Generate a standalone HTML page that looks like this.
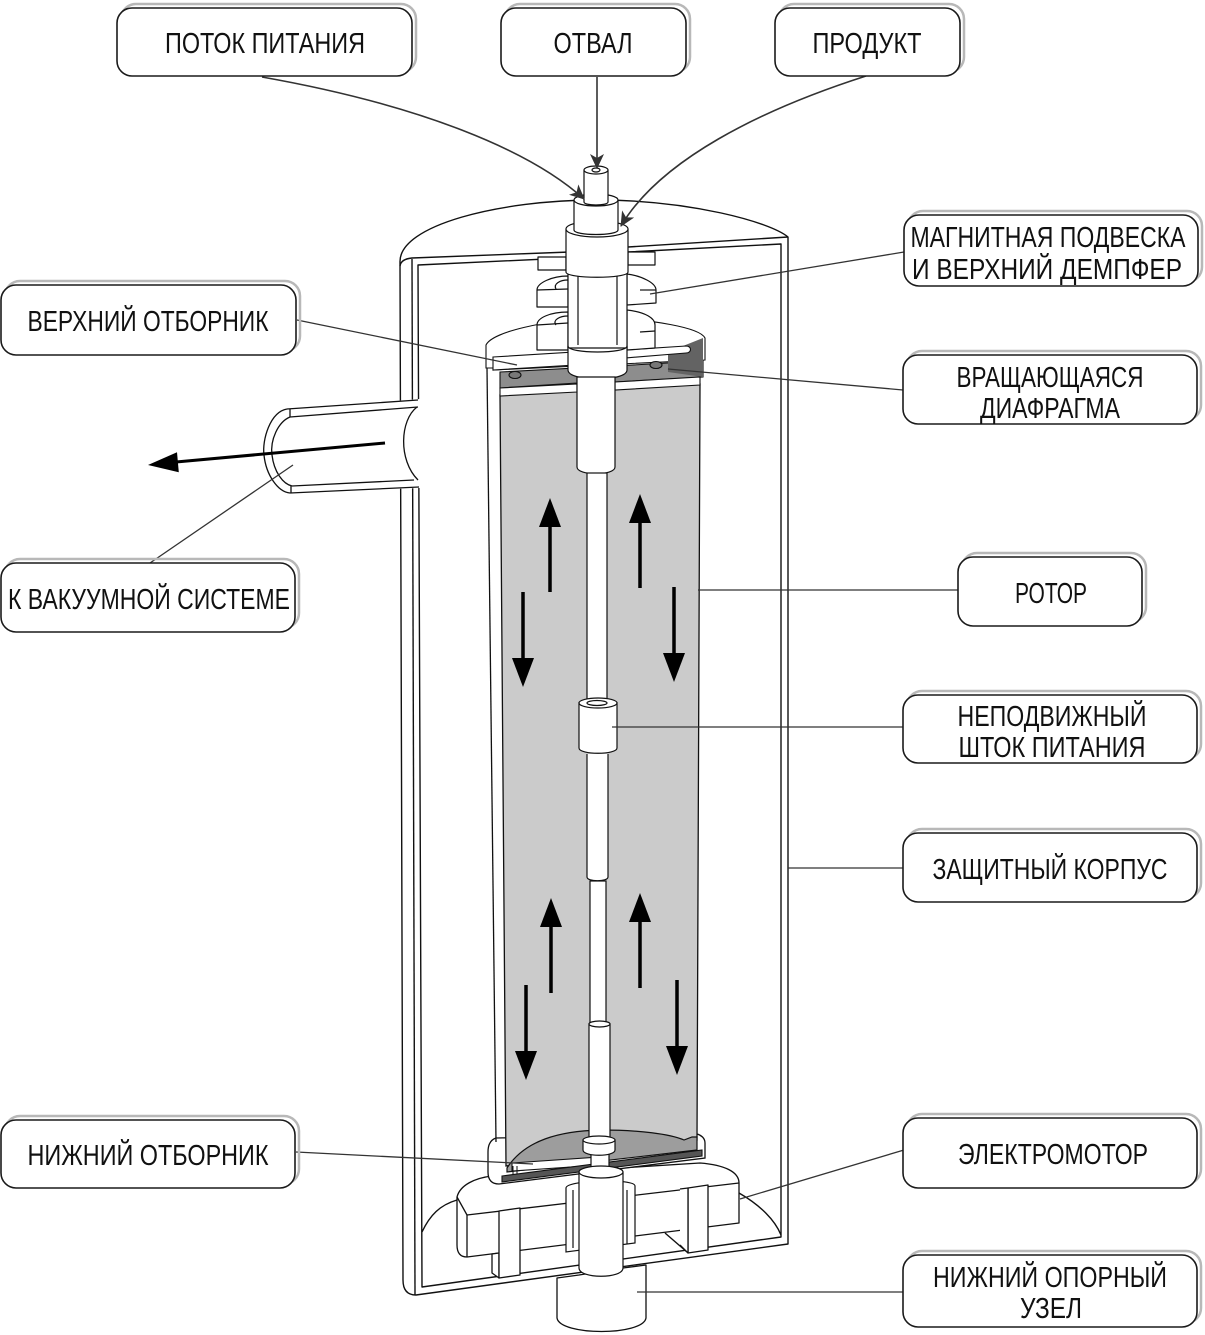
<!DOCTYPE html>
<html><head><meta charset="utf-8"><style>
html,body{margin:0;padding:0;background:#fff;}
svg{display:block;}
text{font-family:"Liberation Sans","DejaVu Sans",sans-serif;font-size:29px;fill:#111;}
</style></head><body>
<svg width="1205" height="1335" viewBox="0 0 1205 1335" xmlns="http://www.w3.org/2000/svg">
<defs>
<marker id="ah" markerUnits="userSpaceOnUse" markerWidth="16" markerHeight="14" refX="14" refY="7" orient="auto">
<path d="M0,0 L15,7 L0,14 L4,7 Z" fill="#333"/>
</marker>
</defs>

<!-- ===== HOUSING ===== -->
<g fill="none" stroke="#111" stroke-width="1.4" stroke-linejoin="round">
<path d="M400,262 C399,225 500,200 597,200 C690,200 770,222 788,237 L788,1244 L416,1295 Q403,1295 403,1280 Z" fill="#fff"/>
<path d="M412,259 L415,1295"/>
<path d="M570,252 L412,258 Q401,259 400,266"/>
<path d="M628,247 L788,237"/>
<path d="M567,258 L418,265 L422,1287 L781,1237 L781,244 L628,252"/>
<!-- bottom dome arcs -->
<path d="M422,1232 C430,1215 440,1205 457,1200"/>
<path d="M739,1193 C760,1205 775,1220 781,1235"/>
<path d="M665,1233 L687,1252"/>
</g>

<!-- ===== VACUUM PIPE ===== -->
<path d="M420,399 L287,409 C270,412 262,440 264,455 C266,475 278,492 290,493 L420,488 Z" fill="#fff"/>
<g fill="none" stroke="#111" stroke-width="1.3">
<path d="M418,400 L287,409"/>
<path d="M418,407 L290,417"/>
<path d="M287,409 C270,412 262,440 264,455 C266,475 278,492 290,493"/>
<path d="M290,417 C278,422 270,440 272,455 C274,472 283,484 292,486"/>
<path d="M292,486 L414,480"/>
<path d="M290,493 L419,487"/>
<path d="M290,409 L290,417 M291,486 L291,493"/>
<path d="M417,407 C400,420 398,460 418,480"/>
</g>
<!-- outgoing arrow -->
<path d="M385,443 L176,462" stroke="#000" stroke-width="3"/>
<polygon points="148,465 178.8,472.2 177,452.2" fill="#000"/>

<!-- ===== BOTTOM SUPPORT & MOTOR ===== -->
<g stroke="#111" stroke-width="1.3" fill="#fff" stroke-linejoin="round">
<path d="M557,1278 L557,1318 C560,1336 643,1336 646,1318 L646,1265 L623,1268 L579,1275 Z"/>
<path d="M457,1197 C460,1185 475,1178 492,1176 L700,1163 C725,1165 739,1172 739,1183 L739,1223 L467,1257 Q457,1257 457,1245 Z"/>
<path d="M457,1197 L467,1215 L739,1183" fill="none"/>
<path d="M467,1215 L467,1257" fill="none"/>
<!-- clamps -->
<path d="M492,1254 L499,1253 L499,1278 L492,1273 Z"/>
<path d="M499,1211 L520,1208 L520,1275 L499,1278 Z"/>
<path d="M688,1188 L708,1185 L708,1250 L688,1253 Z"/>
<path d="M680,1189 L688,1188 L688,1253 L680,1245" />
</g>

<!-- ===== ROTOR CUP (bottom) ===== -->
<path d="M496,1138 C490,1140 488,1145 488,1152 L488,1172 Q488,1184 499,1184 L705,1158 L705,1143 C705,1138 701,1135 697,1134 Z" fill="#fff" stroke="#111" stroke-width="1.3"/>

<!-- ===== ROTOR BODY ===== -->
<path d="M500,395 L700,384 L697,1140 L506,1166 Z" fill="#cbcbcb" stroke="#111" stroke-width="1.3"/>
<path d="M487,368 L496,1142" fill="none" stroke="#111" stroke-width="1.3"/>
<!-- bottom dark dome -->
<path d="M507,1168 C525,1140 560,1131 600,1130 C640,1130 670,1134 684,1140 L692,1137 L697,1137 L697,1150 L507,1172 Z" fill="#9d9d9d" stroke="#111" stroke-width="1.2"/>
<path d="M512,1163 L600,1157 L600,1165 L512,1171 Z" fill="#fff" stroke="#111" stroke-width="1.1"/>
<path d="M513,1166 L513,1178 M517,1166 L517,1178" stroke="#111" stroke-width="1"/>
<path d="M502,1176 L702,1150 L702,1156 L502,1182 Z" fill="#555" stroke="#111" stroke-width="1.1"/>

<!-- rotor top bands -->
<g stroke="#111" stroke-width="1.1">
<path d="M486,345 C492,332 545,320 597,318 C655,319 700,328 705,338 L705,360 L493,370 L493,368 L486,368 Z" fill="#fff"/>
<path d="M500,372 L577,368 L577,383 L500,388 Z" fill="#8d8d8d"/>
<path d="M615,366 L703,361 L703,377 L615,382 Z" fill="#8d8d8d"/>
<path d="M668,352 L703,338 L703,377 L668,372 Z" fill="#636363" stroke="none"/>
<path d="M500,388 L577,384 L577,392 L500,396 Z" fill="#fff"/>
<path d="M615,382 L700,377 L700,385 L615,390 Z" fill="#fff"/>
<ellipse cx="515" cy="375" rx="6" ry="3.5" fill="#777"/>
<ellipse cx="656" cy="365" rx="6" ry="3.5" fill="#777"/>
<path d="M493,357 L575,352 L575,365 L493,370 Z" fill="#fff"/>
<path d="M625,350 L686,346 C692,346 692,353 686,353 L625,358 Z" fill="#fff"/>
</g>

<!-- ===== TOP MAGNET STACK ===== -->
<g stroke="#111" stroke-width="1.2" fill="#fff" stroke-linejoin="round">
<rect x="538" y="257" width="28" height="13"/>
<rect x="628" y="252" width="27" height="13"/>
<path d="M568,312 C550,312 537,318 537,325 L537,350 L568,350 Z"/>
<path d="M537,325 L568,323" fill="none"/>
<path d="M568,316 C560,316 552,320 556,325" fill="none"/>
<path d="M627,310 C645,312 655,318 655,325 L655,348 L627,350 Z"/>
<path d="M640,332 L655,331" fill="none"/>
<path d="M568,276 C552,276 537,283 537,290 L537,307 L568,307 Z"/>
<path d="M537,290 L568,289" fill="none"/>
<path d="M568,280 C560,280 553,284 556,289" fill="none"/>
<path d="M627,274 C642,276 656,283 656,290 L656,303 L627,305 Z"/>
<path d="M640,290 L656,290" fill="none"/>
<!-- central tube -->
<rect x="568" y="268" width="59" height="80"/>
<path d="M578,275 L578,345 M617,275 L617,345" fill="none"/>
<path d="M568,346 L568,370 C568,382 627,382 627,370 L627,346 C627,354 568,354 568,346 Z"/>
<!-- big cylinder -->
<path d="M566,229 L566,272 C566,279 628,279 628,272 L628,229 Z"/>
<ellipse cx="597" cy="229" rx="31" ry="8"/>
<!-- middle cylinder -->
<path d="M574,200 L574,230 C574,236 618,236 618,230 L618,200 Z"/>
<ellipse cx="596" cy="200" rx="22" ry="6"/>
<!-- small tube -->
<path d="M584,170 L584,202 C584,206 608,206 608,202 L608,170 Z"/>
<ellipse cx="596" cy="170" rx="12" ry="4"/>
<ellipse cx="596" cy="170" rx="4" ry="2"/>
</g>

<!-- ===== CENTRAL SHAFT ===== -->
<g stroke="#111" stroke-width="1.2" fill="#fff">
<path d="M577,377 L577,467 C577,476 615,476 615,467 L615,377 Z"/>
<rect x="587" y="473" width="20" height="230"/>
<path d="M579,703 L579,748 C579,755 617,755 617,748 L617,703 Z"/>
<ellipse cx="598" cy="703" rx="19" ry="5"/>
<ellipse cx="597" cy="703" rx="10" ry="2.5"/>
<path d="M587,754 L587,877 C587,882 608,882 608,877 L608,754"/>
<rect x="590" y="881" width="16" height="142"/>
<rect x="589" y="1024" width="21" height="116"/>
<ellipse cx="599.5" cy="1024" rx="10.5" ry="3"/>
<!-- lower collar & shaft -->
<rect x="591" y="1150" width="18" height="24"/>
<path d="M583,1140 L583,1150 C583,1157 615,1157 615,1150 L615,1140 Z"/>
<ellipse cx="599" cy="1140" rx="16" ry="4"/>
<!-- sleeve -->
<path d="M566,1188 C566,1180 635,1178 635,1186 L635,1243 L566,1252 Z"/>
<path d="M573,1190 L573,1248 M627,1190 L627,1244" fill="none"/>
<!-- motor inner shaft -->
<path d="M579,1172 L579,1268 C579,1279 623,1279 623,1268 L623,1172 Z"/>
<ellipse cx="601" cy="1172" rx="22" ry="6"/>
</g>

<!-- ===== FLOW ARROWS ===== -->
<g stroke="#000" stroke-width="3.5">
<path d="M550,592 L550,524"/><path d="M640,588 L640,520"/>
<path d="M523,592 L523,662"/><path d="M674,587 L674,657"/>
<path d="M551,993 L551,924"/><path d="M640,988 L640,919"/>
<path d="M526,985 L526,1055"/><path d="M677,980 L677,1050"/>
</g>
<g fill="#000">
<polygon points="550,498 539,527 561,527"/>
<polygon points="640,494 629,523 651,523"/>
<polygon points="523,687 512,658 534,658"/>
<polygon points="674,682 663,653 685,653"/>
<polygon points="551,898 540,927 562,927"/>
<polygon points="640,893 629,922 651,922"/>
<polygon points="526,1080 515,1051 537,1051"/>
<polygon points="677,1075 666,1046 688,1046"/>
</g>

<!-- ===== INPUT ARROWS ===== -->
<g fill="none" stroke="#333" stroke-width="1.6">
<path d="M262,77 C420,105 530,150 584,199" marker-end="url(#ah)"/>
<path d="M597,77 L597,168" marker-end="url(#ah)"/>
<path d="M866,76 C760,110 660,160 621,226" marker-end="url(#ah)"/>
</g>

<!-- ===== LEADER LINES ===== -->
<g fill="none" stroke="#333" stroke-width="1.3">
<path d="M904,252 L650,294"/>
<path d="M903,390 L668,369"/>
<path d="M297,320 L517,365"/>
<path d="M150,563 L293,465"/>
<path d="M958,590 L698,590"/>
<path d="M904,727 L612,727"/>
<path d="M904,868 L788,868"/>
<path d="M296,1152 L533,1164"/>
<path d="M904,1150 L740,1199"/>
<path d="M904,1292 L637,1292"/>
</g>

<!-- ===== LABEL BOXES ===== -->
<g stroke="#b8b8b8" stroke-width="2.5" fill="none">
<rect x="121" y="4" width="295" height="68" rx="15"/>
<rect x="505" y="4" width="185" height="68" rx="15"/>
<rect x="779" y="4" width="185" height="68" rx="15"/>
<rect x="908" y="211" width="294" height="71" rx="15"/>
<rect x="907" y="351" width="294" height="69" rx="15"/>
<rect x="5" y="281" width="295" height="70" rx="15"/>
<rect x="5" y="559" width="294" height="69" rx="15"/>
<rect x="962" y="553" width="184" height="69" rx="15"/>
<rect x="907" y="691" width="294" height="68" rx="15"/>
<rect x="907" y="829" width="294" height="69" rx="15"/>
<rect x="5" y="1116" width="294" height="68" rx="15"/>
<rect x="907" y="1114" width="294" height="70" rx="15"/>
<rect x="907" y="1251" width="294" height="72" rx="15"/>
</g>
<g stroke="#1a1a1a" stroke-width="1.6" fill="#fff">
<rect x="117" y="8" width="295" height="68" rx="15"/>
<rect x="501" y="8" width="185" height="68" rx="15"/>
<rect x="775" y="8" width="185" height="68" rx="15"/>
<rect x="904" y="215" width="294" height="71" rx="15"/>
<rect x="903" y="355" width="294" height="69" rx="15"/>
<rect x="1" y="285" width="295" height="70" rx="15"/>
<rect x="1" y="563" width="294" height="69" rx="15"/>
<rect x="958" y="557" width="184" height="69" rx="15"/>
<rect x="903" y="695" width="294" height="68" rx="15"/>
<rect x="903" y="833" width="294" height="69" rx="15"/>
<rect x="1" y="1120" width="294" height="68" rx="15"/>
<rect x="903" y="1118" width="294" height="70" rx="15"/>
<rect x="903" y="1255" width="294" height="72" rx="15"/>
</g>

<g text-anchor="middle">
<text x="265" y="53" textLength="200" lengthAdjust="spacingAndGlyphs">ПОТОК ПИТАНИЯ</text>
<text x="593" y="53" textLength="79" lengthAdjust="spacingAndGlyphs">ОТВАЛ</text>
<text x="867" y="53" textLength="109" lengthAdjust="spacingAndGlyphs">ПРОДУКТ</text>
<text x="1048" y="247" textLength="275" lengthAdjust="spacingAndGlyphs">МАГНИТНАЯ ПОДВЕСКА</text>
<text x="1047" y="279" textLength="270" lengthAdjust="spacingAndGlyphs">И ВЕРХНИЙ ДЕМПФЕР</text>
<text x="1050" y="387" textLength="187" lengthAdjust="spacingAndGlyphs">ВРАЩАЮЩАЯСЯ</text>
<text x="1050" y="418" textLength="140" lengthAdjust="spacingAndGlyphs">ДИАФРАГМА</text>
<text x="148" y="331" textLength="241" lengthAdjust="spacingAndGlyphs">ВЕРХНИЙ ОТБОРНИК</text>
<text x="149" y="609" textLength="282" lengthAdjust="spacingAndGlyphs">К ВАКУУМНОЙ СИСТЕМЕ</text>
<text x="1051" y="603" textLength="72" lengthAdjust="spacingAndGlyphs">РОТОР</text>
<text x="1052" y="726" textLength="189" lengthAdjust="spacingAndGlyphs">НЕПОДВИЖНЫЙ</text>
<text x="1052" y="757" textLength="187" lengthAdjust="spacingAndGlyphs">ШТОК ПИТАНИЯ</text>
<text x="1050" y="879" textLength="235" lengthAdjust="spacingAndGlyphs">ЗАЩИТНЫЙ КОРПУС</text>
<text x="148" y="1165" textLength="241" lengthAdjust="spacingAndGlyphs">НИЖНИЙ ОТБОРНИК</text>
<text x="1053" y="1164" textLength="190" lengthAdjust="spacingAndGlyphs">ЭЛЕКТРОМОТОР</text>
<text x="1050" y="1287" textLength="234" lengthAdjust="spacingAndGlyphs">НИЖНИЙ ОПОРНЫЙ</text>
<text x="1051" y="1318" textLength="62" lengthAdjust="spacingAndGlyphs">УЗЕЛ</text>
</g>
</svg>
</body></html>
